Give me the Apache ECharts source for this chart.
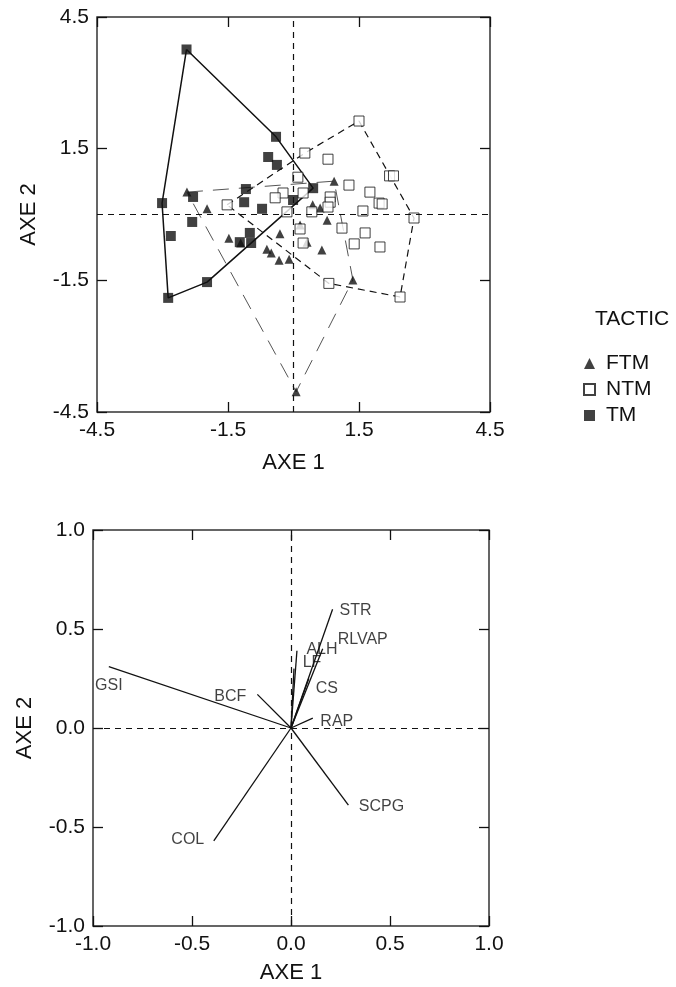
<!DOCTYPE html>
<html><head><meta charset="utf-8">
<script src="https://cdn.jsdelivr.net/npm/echarts@6/dist/echarts.min.js"></script>
<style>html,body{margin:0;padding:0;background:#fff}#c{width:676px;height:987px}</style>
</head><body><div id="c"></div>
<script>
// ---- Top plot: individual scores on AXE 1 / AXE 2 ----
const ftm = [[-2.44,0.51],[-1.98,0.13],[-1.48,-0.54],[-1.21,-0.65],[-0.61,-0.79],[-0.51,-0.88],
  [-0.33,-1.04],[-0.10,-1.02],[-0.31,-0.44],[0.15,-0.24],[0.44,0.22],[0.61,0.15],[0.77,-0.13],
  [0.93,0.76],[0.31,-0.63],[0.65,-0.81],[1.36,-1.49],[0.06,-4.04]];
const ntm = [[1.50,2.13],[0.26,1.40],[0.79,1.26],[0.10,0.85],[2.20,0.88],[2.29,0.88],[1.27,0.67],
  [1.75,0.51],[0.22,0.49],[-0.24,0.49],[-0.42,0.38],[1.96,0.26],[2.03,0.24],[0.84,0.40],[0.84,0.28],
  [0.79,0.17],[1.59,0.08],[0.42,0.06],[-0.15,0.06],[2.76,-0.08],[-1.52,0.22],[1.11,-0.31],
  [0.15,-0.33],[1.64,-0.42],[1.39,-0.67],[1.98,-0.74],[0.22,-0.65],[0.81,-1.57],[2.44,-1.88]];
const tm = [[-2.45,3.76],[-0.40,1.77],[-0.58,1.31],[-0.38,1.13],[-1.09,0.58],[-2.30,0.40],
  [-1.13,0.28],[-0.72,0.13],[-0.01,0.33],[0.45,0.60],[-3.01,0.26],[-2.32,-0.17],[-2.81,-0.49],
  [-1.00,-0.42],[-1.23,-0.63],[-0.97,-0.65],[-1.98,-1.54],[-2.87,-1.90]];
// convex hulls (closed polygons)
const ftmHull = [[-2.44,0.51],[0.93,0.76],[1.36,-1.49],[0.06,-4.04],[-2.44,0.51]];
const ntmHull = [[-1.52,0.22],[0.26,1.40],[1.50,2.13],[2.76,-0.08],[2.44,-1.88],[0.81,-1.57],[-1.52,0.22]];
const tmHull = [[-2.45,3.76],[-0.40,1.77],[0.45,0.60],[-1.98,-1.54],[-2.87,-1.90],[-3.01,0.26],[-2.45,3.76]];
const topMin = -4.5, topMax = 4.5, topStep = 3;

// ---- Bottom plot: variable loadings ----
const varNames = ['GSI','BCF','STR','RLVAP','ALH','LF','CS','RAP','SCPG','COL'];
const varAxe1 = [-0.92,-0.17,0.21,0.16,0.03,0.015,0.09,0.11,0.29,-0.39];
const varAxe2 = [0.31,0.17,0.60,0.40,0.39,0.30,0.25,0.05,-0.39,-0.57];
const botMin = -1.0, botMax = 1.0, botStep = 0.5;

// label offsets (style only)
const labelOffset = {GSI:[0,19],BCF:[-27,2],STR:[23,1],RLVAP:[40,-9],ALH:[25,-1],LF:[18,-6],
  CS:[18,10],RAP:[24,3],SCPG:[33,1],COL:[-26,-1]};

const FONT = "'Liberation Sans', Arial, sans-serif";
const INK = '#111';

function xAx(grid, pos, min, max, step, labels, name, gap) {
  return {gridIndex:grid, type:'value', position:pos, min:min, max:max, interval:step,
    axisLine:{show:false, onZero:false}, splitLine:{show:false},
    axisTick:{show:true, inside:true, length:10, lineStyle:{color:INK, width:1.3}},
    axisLabel:{show:labels, fontSize:21, color:INK, fontFamily:FONT, margin:8,
      formatter:v=>v.toFixed(1)},
    name:name||'', nameLocation:'middle', nameGap:gap||0,
    nameTextStyle:{fontSize:22, color:INK, fontFamily:FONT}};
}
function yAx(grid, pos, min, max, step, labels, name, gap) {
  const a = xAx(grid, pos, min, max, step, labels, name, gap);
  a.nameRotate = 90;
  return a;
}
const refLines = {silent:true, symbol:'none', label:{show:false},
  lineStyle:{color:INK, type:[6,5], width:1.2}, data:[{xAxis:0},{yAxis:0}]};

const series = [
  {type:'line', name:'ftmHull', xAxisIndex:0, yAxisIndex:0, data:ftmHull, symbol:'none',
    lineStyle:{color:'#555', width:1, type:[16,10]}, silent:true, markLine:refLines, z:1},
  {type:'line', name:'ntmHull', xAxisIndex:0, yAxisIndex:0, data:ntmHull, symbol:'none',
    lineStyle:{color:INK, width:1.2, type:[7,5]}, silent:true, z:1},
  {type:'line', name:'tmHull', xAxisIndex:0, yAxisIndex:0, data:tmHull, symbol:'none',
    lineStyle:{color:INK, width:1.5}, silent:true, z:1},
  {type:'scatter', name:'FTM', xAxisIndex:0, yAxisIndex:0, data:ftm, symbol:'triangle', symbolSize:9,
    itemStyle:{color:INK}, z:3},
  {type:'scatter', name:'NTM', xAxisIndex:0, yAxisIndex:0, data:ntm, symbol:'rect', symbolSize:10,
    itemStyle:{color:'#fff', borderColor:INK, borderWidth:1}, z:3},
  {type:'scatter', name:'TM', xAxisIndex:0, yAxisIndex:0, data:tm, symbol:'rect', symbolSize:10,
    itemStyle:{color:INK}, z:3}
];
varNames.forEach((n,i)=>{
  series.push({type:'line', name:'v_'+n, xAxisIndex:2, yAxisIndex:2,
    data:[[0,0],[varAxe1[i],varAxe2[i]]], symbol:'none', silent:true,
    lineStyle:{color:INK, width:1.3},
    markLine: i===0 ? refLines : undefined});
});
series.push({type:'scatter', name:'varLabels', xAxisIndex:2, yAxisIndex:2, symbolSize:0, silent:true,
  data: varNames.map((n,i)=>({value:[varAxe1[i],varAxe2[i]],
    label:{show:true, formatter:n, position:'inside', offset:labelOffset[n],
      fontSize:16, color:INK, fontFamily:FONT, textBorderWidth:0}}))});

const chart = echarts.init(document.getElementById('c'), null, {renderer:'canvas'});
chart.setOption({
  backgroundColor:'#fff',
  animation:false,
  title:{text:'TACTIC', left:590, top:304, textStyle:{fontSize:21, fontWeight:'normal', color:INK, fontFamily:FONT}},
  legend:{data:['FTM','NTM','TM'], orient:'vertical', left:578, top:348, itemWidth:11, itemHeight:11,
    itemGap:5, textStyle:{fontSize:21, color:INK, fontFamily:FONT, padding:[0,0,0,6]}, selectedMode:false},
  grid:[
    {left:97, top:17, width:393, height:395, show:true, borderColor:'#333', borderWidth:1.5},
    {left:93, top:530, width:396, height:396, show:true, borderColor:'#333', borderWidth:1.5}
  ],
  xAxis:[
    xAx(0,'bottom',topMin,topMax,topStep,true,'AXE 1',40),
    xAx(0,'top',topMin,topMax,topStep,false),
    xAx(1,'bottom',botMin,botMax,botStep,true,'AXE 1',36),
    xAx(1,'top',botMin,botMax,botStep,false)
  ],
  yAxis:[
    yAx(0,'left',topMin,topMax,topStep,true,'AXE 2',57),
    yAx(0,'right',topMin,topMax,topStep,false),
    yAx(1,'left',botMin,botMax,botStep,true,'AXE 2',57),
    yAx(1,'right',botMin,botMax,botStep,false)
  ],
  series:series
});
</script></body></html>
